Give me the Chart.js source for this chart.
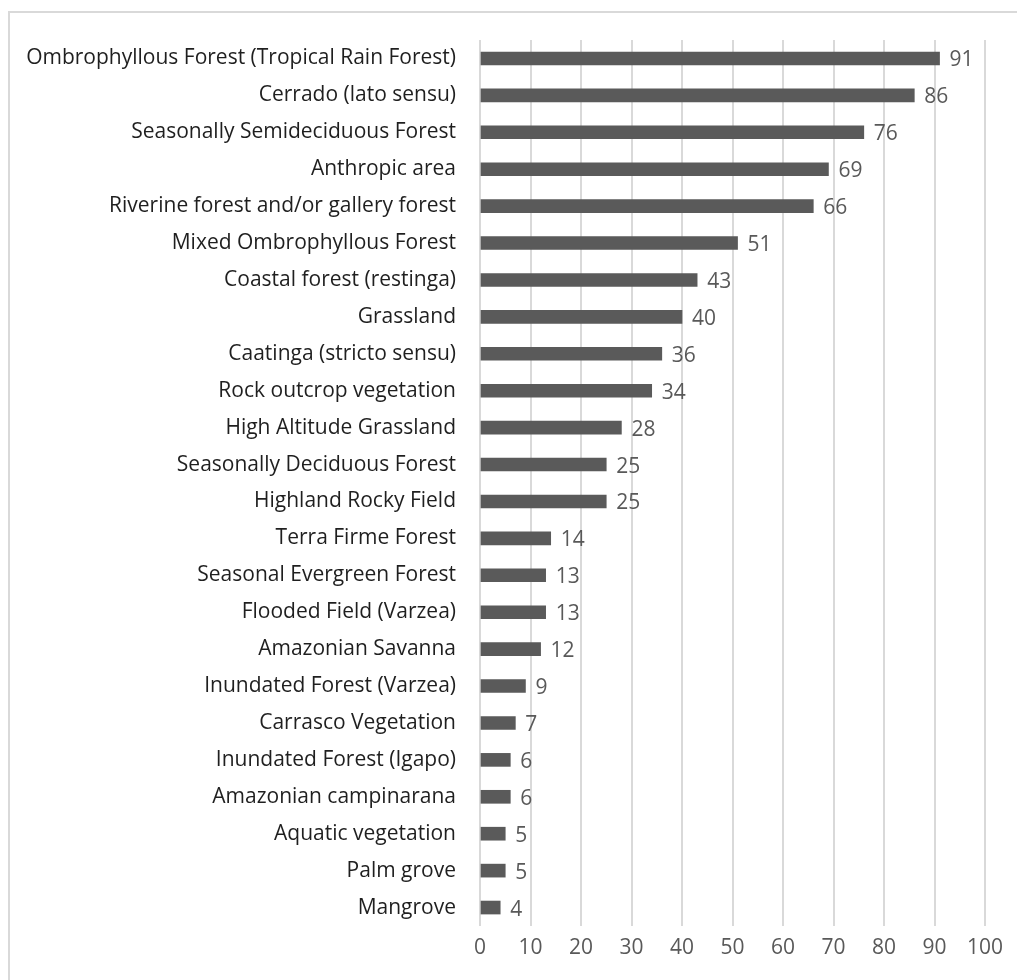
<!DOCTYPE html>
<html lang="en">
<head>
    <meta charset="UTF-8">
    <title>Vegetation types</title>
    <script src="https://cdn.jsdelivr.net/npm/chart.js"></script>
    <style>
        body {
            margin: 0;
            padding: 0;
            background-color: #ffffff;
            overflow: hidden;
        }
        #frame {
            position: absolute;
            left: 8px;
            top: 11px;
            width: 1040px;
            height: 1000px;
            border: 2px solid #d9d9d9;
        }
        #chart-box {
            position: absolute;
            left: 0;
            top: 0;
            width: 1017px;
            height: 980px;
        }
    </style>
</head>
<body>
    <div id="frame"></div>
    <div id="chart-box">
        <canvas id="vegChart"></canvas>
    </div>

    <script>
        const categories = [
            'Ombrophyllous Forest (Tropical Rain Forest)',
            'Cerrado (lato sensu)',
            'Seasonally Semideciduous Forest',
            'Anthropic area',
            'Riverine forest and/or gallery forest',
            'Mixed Ombrophyllous Forest',
            'Coastal forest (restinga)',
            'Grassland',
            'Caatinga (stricto sensu)',
            'Rock outcrop vegetation',
            'High Altitude Grassland',
            'Seasonally Deciduous Forest',
            'Highland Rocky Field',
            'Terra Firme Forest',
            'Seasonal Evergreen Forest',
            'Flooded Field (Varzea)',
            'Amazonian Savanna',
            'Inundated Forest (Varzea)',
            'Carrasco Vegetation',
            'Inundated Forest (Igapo)',
            'Amazonian campinarana',
            'Aquatic vegetation',
            'Palm grove',
            'Mangrove'
        ];
        const counts = [91, 86, 76, 69, 66, 51, 43, 40, 36, 34, 28, 25, 25, 14, 13, 13, 12, 9, 7, 6, 6, 5, 5, 4];
        const xTicks = [0, 10, 20, 30, 40, 50, 60, 70, 80, 90, 100];

        const fontFamily = "'Open Sans', 'Noto Sans', sans-serif";

        // value labels at the end of each bar
        const barLabels = {
            id: 'barLabels',
            afterDatasetsDraw(chart) {
                const ctx = chart.ctx;
                const meta = chart.getDatasetMeta(0);
                ctx.save();
                ctx.font = '21px ' + fontFamily;
                ctx.fillStyle = '#595959';
                ctx.textAlign = 'left';
                ctx.textBaseline = 'middle';
                meta.data.forEach((bar, i) => {
                    ctx.fillText(String(counts[i]), bar.x + 10, bar.y + 2);
                });
                ctx.restore();
            }
        };

        const ctx = document.getElementById('vegChart').getContext('2d');
        new Chart(ctx, {
            type: 'bar',
            data: {
                labels: categories,
                datasets: [{
                    data: counts,
                    backgroundColor: '#5a5a5a',
                    borderWidth: 0,
                    barThickness: 13
                }]
            },
            options: {
                indexAxis: 'y',
                responsive: true,
                maintainAspectRatio: false,
                animation: false,
                layout: {
                    padding: { top: 40, right: 32, bottom: 0, left: 0 }
                },
                plugins: {
                    legend: { display: false },
                    tooltip: { enabled: false }
                },
                scales: {
                    x: {
                        min: 0,
                        max: 100,
                        afterBuildTicks(axis) {
                            axis.ticks = xTicks.map(v => ({ value: v }));
                        },
                        afterFit(axis) {
                            axis.height = 54;
                        },
                        grid: {
                            color: '#d9d9d9',
                            lineWidth: 2,
                            drawTicks: false
                        },
                        border: { display: false },
                        ticks: {
                            padding: 9,
                            color: '#595959',
                            font: { family: fontFamily, size: 21 }
                        }
                    },
                    y: {
                        afterFit(axis) {
                            axis.width = 480;
                        },
                        grid: { display: false, drawTicks: false },
                        border: { display: false },
                        ticks: {
                            padding: 24,
                            autoSkip: false,
                            color: '#1f1f1f',
                            font: { family: fontFamily, size: 21 }
                        }
                    }
                }
            },
            plugins: [barLabels]
        });
    </script>
</body>
</html>
